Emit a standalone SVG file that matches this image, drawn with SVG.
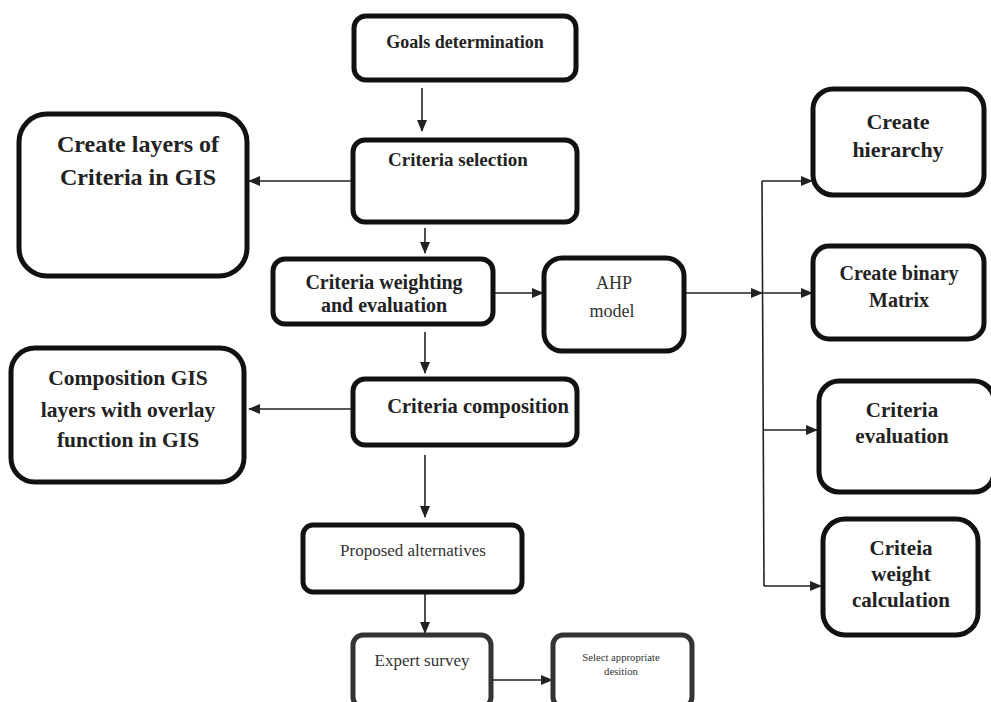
<svg xmlns="http://www.w3.org/2000/svg" width="991" height="702" viewBox="0 0 991 702">
<style>
.box{fill:#fff;stroke:#111;stroke-width:5}
.box2{fill:#fff;stroke:#333;stroke-width:5}
.b{font-family:"Liberation Serif",serif;font-weight:bold;fill:#222;text-anchor:middle}
.r{font-family:"Liberation Serif",serif;fill:#333;text-anchor:middle}
.c{stroke:#222;stroke-width:1.6;fill:none}
</style>
<defs>
<marker id="ah" markerWidth="12" markerHeight="10" refX="11" refY="5" orient="auto" markerUnits="userSpaceOnUse">
<path d="M0,0 L12,5 L0,10 Z" fill="#222"/>
</marker>
</defs>
<rect width="991" height="702" fill="#fff"/>
<g id="connectors">
<line class="c" x1="422" y1="88" x2="422" y2="131" marker-end="url(#ah)"/>
<line class="c" x1="352" y1="181" x2="249" y2="181" marker-end="url(#ah)"/>
<line class="c" x1="425" y1="228" x2="425" y2="253" marker-end="url(#ah)"/>
<line class="c" x1="494" y1="293" x2="543" y2="293" marker-end="url(#ah)"/>
<line class="c" x1="685" y1="293" x2="762" y2="293" marker-end="url(#ah)"/>
<line class="c" x1="762" y1="181" x2="764" y2="586"/>
<line class="c" x1="762" y1="181" x2="812" y2="181" marker-end="url(#ah)"/>
<line class="c" x1="762" y1="293" x2="812" y2="293" marker-end="url(#ah)"/>
<line class="c" x1="763" y1="430" x2="817" y2="430" marker-end="url(#ah)"/>
<line class="c" x1="764" y1="586" x2="821" y2="586" marker-end="url(#ah)"/>
<line class="c" x1="425" y1="332" x2="425" y2="373" marker-end="url(#ah)"/>
<line class="c" x1="352" y1="409" x2="249" y2="409" marker-end="url(#ah)"/>
<line class="c" x1="425" y1="455" x2="425" y2="517" marker-end="url(#ah)"/>
<line class="c" x1="425" y1="594" x2="425" y2="633" marker-end="url(#ah)"/>
<line class="c" x1="493" y1="680" x2="552" y2="680" marker-end="url(#ah)"/>
</g>
<g id="goals">
<rect class="box" x="354" y="16" width="222" height="64" rx="12"/>
<text class="b" x="465" y="48" font-size="18">Goals determination</text>
</g>
<g id="selection">
<rect class="box" x="353" y="140" width="224" height="82" rx="12"/>
<text class="b" x="458" y="166" font-size="19">Criteria selection</text>
</g>
<g id="layers">
<rect class="box" x="19" y="114" width="228" height="162" rx="28"/>
<text class="b" x="138" y="152" font-size="24">Create layers of</text>
<text class="b" x="138" y="185" font-size="24">Criteria in GIS</text>
</g>
<g id="weighting">
<rect class="box" x="273" y="259" width="220" height="65" rx="12"/>
<text class="b" x="384" y="289" font-size="20">Criteria weighting</text>
<text class="b" x="384" y="312" font-size="20">and evaluation</text>
</g>
<g id="ahp">
<rect class="box" x="544" y="258" width="140" height="93" rx="18"/>
<text class="r" x="614" y="289" font-size="18" fill="#444">AHP</text>
<text class="r" x="612" y="317" font-size="18" fill="#444">model</text>
</g>
<g id="hierarchy">
<rect class="box" x="813" y="89" width="171" height="106" rx="20"/>
<text class="b" x="898" y="129" font-size="22">Create</text>
<text class="b" x="898" y="157" font-size="22">hierarchy</text>
</g>
<g id="matrix">
<rect class="box" x="813" y="246" width="171" height="93" rx="16"/>
<text class="b" x="899" y="280" font-size="20">Create binary</text>
<text class="b" x="899" y="307" font-size="20">Matrix</text>
</g>
<g id="evaluation">
<rect class="box" x="819" y="381" width="175" height="111" rx="20"/>
<text class="b" x="902" y="417" font-size="21">Criteria</text>
<text class="b" x="902" y="443" font-size="21">evaluation</text>
</g>
<g id="weight">
<rect class="box" x="823" y="519" width="155" height="116" rx="22"/>
<text class="b" x="901" y="555" font-size="21">Criteia</text>
<text class="b" x="901" y="581" font-size="21">weight</text>
<text class="b" x="901" y="607" font-size="21">calculation</text>
</g>
<g id="composition">
<rect class="box" x="353" y="379" width="224" height="66" rx="12"/>
<text class="b" x="478" y="413" font-size="20.5">Criteria composition</text>
</g>
<g id="overlay">
<rect class="box" x="11" y="348" width="233" height="134" rx="24"/>
<text class="b" x="128" y="385" font-size="21.5">Composition GIS</text>
<text class="b" x="128" y="417" font-size="21.5">layers with overlay</text>
<text class="b" x="128" y="447" font-size="21.5">function in GIS</text>
</g>
<g id="proposed">
<rect class="box" x="303" y="525" width="219" height="67" rx="10"/>
<text class="r" x="413" y="556" font-size="17" fill="#222">Proposed alternatives</text>
</g>
<g id="expert">
<rect class="box2" x="353" y="635" width="138" height="72" rx="10" stroke="#444"/>
<text class="r" x="422" y="666" font-size="17">Expert survey</text>
</g>
<g id="select">
<rect class="box2" x="553" y="635" width="139" height="72" rx="10" stroke="#222"/>
<text class="r" x="621" y="661" font-size="10.7">Select appropriate</text>
<text class="r" x="621" y="675" font-size="10.7">desition</text>
</g>
</svg>
